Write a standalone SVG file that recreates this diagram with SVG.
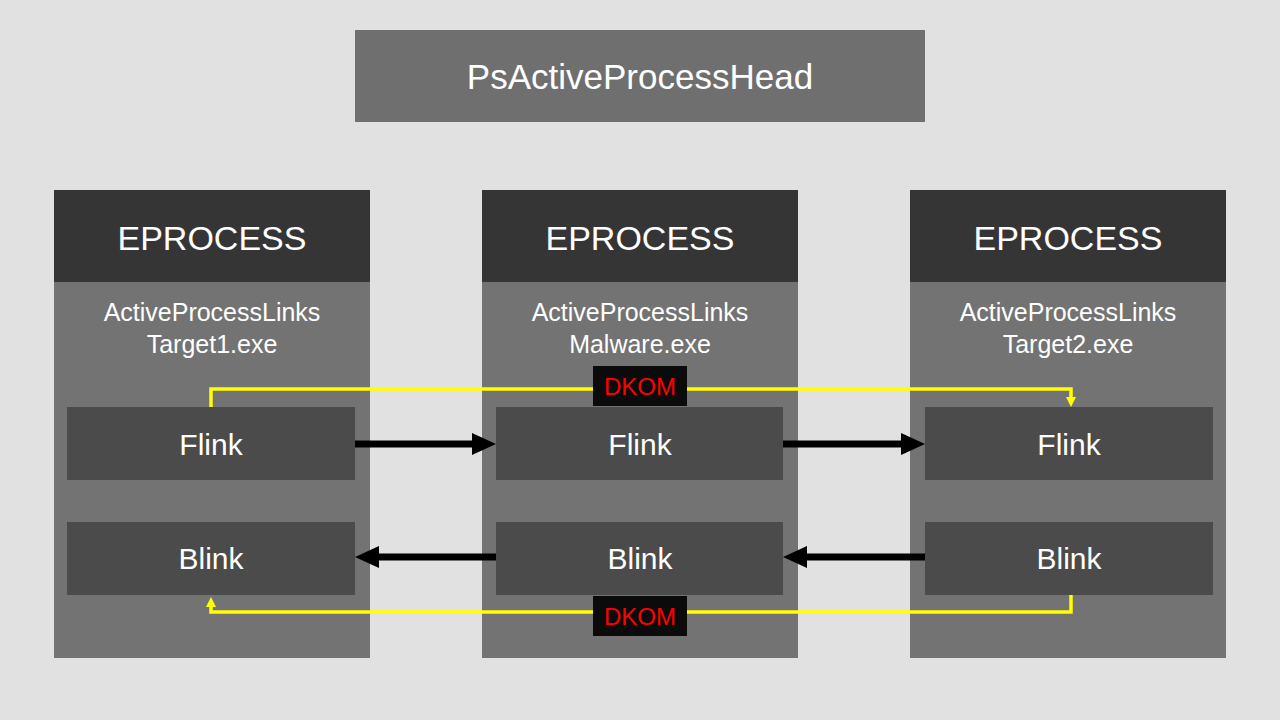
<svg xmlns="http://www.w3.org/2000/svg" width="1280" height="720" viewBox="0 0 1280 720">
<defs>
<style>
text{font-family:"Liberation Sans",Arial,sans-serif;text-anchor:middle;fill:#ffffff}
.head{fill:#6f6f6f}
.hdr{fill:#353535}
.body{fill:#737373}
.link{fill:#4b4b4b}
.t36{font-size:35px}
.t34{font-size:34px}
.t25{font-size:25px}
.t30{font-size:30px}
.dk{fill:#0b0b0b}
.dkt{fill:#ff0000;font-size:24px}
.blk{stroke:#000;stroke-width:7;fill:none}
.yel{stroke:#ffff00;stroke-width:3.5;fill:none}
</style>
<marker id="ab" markerUnits="userSpaceOnUse" markerWidth="24" markerHeight="22" refX="4" refY="11" orient="auto"><path d="M0,0 L24,11 L0,22 z" fill="#000"/></marker>
<marker id="ay" markerUnits="userSpaceOnUse" markerWidth="10" markerHeight="10" refX="1" refY="5" orient="auto"><path d="M0,0 L10,5 L0,10 z" fill="#ffff00"/></marker>
</defs>
<rect width="1280" height="720" fill="#e1e1e1"/>
<g id="head"><rect class="head" x="355" y="30" width="570" height="92"/><text class="t36" x="640" y="89">PsActiveProcessHead</text></g>
<g id="p1">
<rect class="body" x="54" y="282" width="316" height="376"/>
<rect class="hdr" x="54" y="190" width="316" height="92"/>
<text class="t34" x="212" y="250">EPROCESS</text>
<text class="t25" x="212" y="321">ActiveProcessLinks</text>
<text class="t25" x="212" y="353">Target1.exe</text>
</g>
<g id="p2">
<rect class="body" x="482" y="282" width="316" height="376"/>
<rect class="hdr" x="482" y="190" width="316" height="92"/>
<text class="t34" x="640" y="250">EPROCESS</text>
<text class="t25" x="640" y="321">ActiveProcessLinks</text>
<text class="t25" x="640" y="353">Malware.exe</text>
</g>
<g id="p3">
<rect class="body" x="910" y="282" width="316" height="376"/>
<rect class="hdr" x="910" y="190" width="316" height="92"/>
<text class="t34" x="1068" y="250">EPROCESS</text>
<text class="t25" x="1068" y="321">ActiveProcessLinks</text>
<text class="t25" x="1068" y="353">Target2.exe</text>
</g>
<g id="f1"><rect class="link" x="67" y="407" width="288" height="73"/><text class="t30" x="211" y="455">Flink</text></g>
<g id="f2"><rect class="link" x="496" y="407" width="287" height="73"/><text class="t30" x="640" y="455">Flink</text></g>
<g id="f3"><rect class="link" x="925" y="407" width="288" height="73"/><text class="t30" x="1069" y="455">Flink</text></g>
<g id="b1"><rect class="link" x="67" y="522" width="288" height="73"/><text class="t30" x="211" y="569">Blink</text></g>
<g id="b2"><rect class="link" x="496" y="522" width="287" height="73"/><text class="t30" x="640" y="569">Blink</text></g>
<g id="b3"><rect class="link" x="925" y="522" width="288" height="73"/><text class="t30" x="1069" y="569">Blink</text></g>
<g id="connectors">
<path class="blk" d="M355,444 H476" marker-end="url(#ab)"/>
<path class="blk" d="M783,444 H905" marker-end="url(#ab)"/>
<path class="blk" d="M496,557 H375" marker-end="url(#ab)"/>
<path class="blk" d="M925,557 H803" marker-end="url(#ab)"/>
<path class="yel" d="M211,407 V389 H1071 V398" marker-end="url(#ay)"/>
<path class="yel" d="M1071,595 V612 H211 V606" marker-end="url(#ay)"/>
</g>
<g id="dkom1"><rect class="dk" x="593" y="366" width="94" height="40"/><text class="dkt" x="640" y="395">DKOM</text></g>
<g id="dkom2"><rect class="dk" x="593" y="596" width="94" height="40"/><text class="dkt" x="640" y="625">DKOM</text></g>
</svg>
